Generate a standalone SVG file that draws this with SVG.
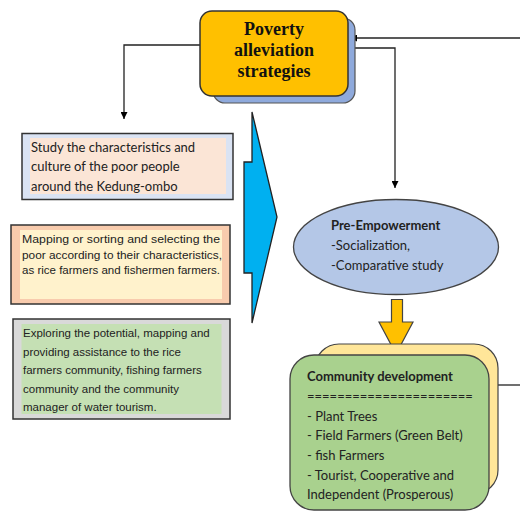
<svg xmlns="http://www.w3.org/2000/svg" width="520" height="512" viewBox="0 0 520 512">
  <defs>
    <marker id="arrow" viewBox="0 0 10 10" refX="10" refY="5" markerWidth="7" markerHeight="7" markerUnits="userSpaceOnUse" orient="auto">
      <path d="M0,0 L10,5 L0,10 z" fill="#000"/>
    </marker>
    <style>
      .conn { fill: none; stroke: #222; stroke-width: 1.3; }
      .edge { stroke: #333; stroke-width: 1.5; }
      .title { font-family: "Liberation Serif", "DejaVu Serif", serif; font-weight: bold; font-size: 18px; fill: #111; text-anchor: middle; }
      .cal { font-family: Lato, "Open Sans", sans-serif; font-size: 13px; fill: #222; }
      .calb { font-weight: bold; }
      .ari { font-family: "Liberation Sans", Arial, sans-serif; font-size: 11.5px; fill: #222; }
    </style>
  </defs>
  <rect width="520" height="512" fill="#fff"/>

  <!-- connectors -->
  <g id="connectors">
    <polyline class="conn" points="200,45 124,45 124,119" marker-end="url(#arrow)"/>
    <polyline class="conn" points="348,48 395,48 395,188" marker-end="url(#arrow)"/>
    <line class="conn" x1="520" y1="38" x2="350" y2="38" marker-end="url(#arrow)"/>
    <line class="conn" x1="498" y1="385" x2="520" y2="385"/>
    <!-- broad blue chevron arrow -->
    <path d="M252,112 L277,217 L252,323 L252,273 L244,273 L244,162 L252,162 Z" fill="#00B0F0" stroke="#222" stroke-width="1.3" stroke-linejoin="miter"/>
    <!-- yellow block arrow -->
    <path d="M391.5,299.5 L402.5,299.5 L402.5,322 L413,322 L396,354 L379,322 L391.5,322 Z" fill="#FFC000" stroke="#444" stroke-width="1.2"/>
  </g>

  <g id="strategies">
    <rect x="213" y="18" width="142" height="85" rx="12" fill="#8FAADC" stroke="#555" stroke-width="1.2"/>
    <rect x="200" y="11" width="148" height="85" rx="12" fill="#FFC000" class="edge"/>
    <text class="title" x="274" y="35">Poverty</text>
    <text class="title" x="274" y="56">alleviation</text>
    <text class="title" x="274" y="77">strategies</text>
  </g>

  <g id="study">
    <rect x="22" y="133.5" width="211" height="66" fill="#DAE3F3" class="edge"/>
    <rect x="30" y="138" width="196" height="56" fill="#FBE5D6"/>
    <text class="cal" x="31" y="152">Study the characteristics and</text>
    <text class="cal" x="31" y="171">culture of the poor people</text>
    <text class="cal" x="31" y="191">around the Kedung-ombo</text>
  </g>

  <g id="mapping">
    <rect x="11" y="225" width="219" height="79" fill="#F8CBAD" class="edge"/>
    <rect x="20" y="230" width="202" height="69" fill="#FFF2CC"/>
    <text class="ari" x="22" y="243" textLength="198" lengthAdjust="spacingAndGlyphs">Mapping or sorting and selecting the</text>
    <text class="ari" x="22" y="258.5" textLength="200" lengthAdjust="spacingAndGlyphs">poor according to their characteristics,</text>
    <text class="ari" x="22" y="274" textLength="198" lengthAdjust="spacingAndGlyphs">as rice farmers and fishermen farmers.</text>
  </g>

  <g id="exploring">
    <rect x="13" y="319" width="217" height="100" fill="#D9D9D9" class="edge"/>
    <rect x="21.5" y="324" width="200" height="90" fill="#C5E0B4"/>
    <text class="ari" x="23" y="337">Exploring the potential, mapping and</text>
    <text class="ari" x="23" y="355.5">providing assistance to the rice</text>
    <text class="ari" x="23" y="374">farmers community, fishing farmers</text>
    <text class="ari" x="23" y="392.5">community and the community</text>
    <text class="ari" x="23" y="411">manager of water tourism.</text>
  </g>

  <g id="pre-empowerment">
    <ellipse cx="396" cy="247" rx="102.5" ry="47.5" fill="#B4C7E7" stroke="#444" stroke-width="1.3"/>
    <text class="cal calb" x="331" y="230">Pre-Empowerment</text>
    <text class="cal" x="331" y="249.5">-Socialization,</text>
    <text class="cal" x="331" y="270">-Comparative study</text>
  </g>

  <g id="community">
    <rect x="315" y="344" width="183" height="150" rx="24" fill="#FFE699" stroke="#444" stroke-width="1.2"/>
    <rect x="290" y="355" width="199" height="155" rx="24" fill="#A9D18E" stroke="#444" stroke-width="1.3"/>
    <text class="cal calb" x="307" y="381">Community development</text>
    <text class="cal" x="307" y="401">======================</text>
    <text class="cal" x="307" y="421">- Plant Trees</text>
    <text class="cal" x="307" y="440">- Field Farmers (Green Belt)</text>
    <text class="cal" x="307" y="459.5">- fish Farmers</text>
    <text class="cal" x="307" y="479.5">- Tourist, Cooperative and</text>
    <text class="cal" x="307" y="498.5">Independent (Prosperous)</text>
  </g>
</svg>
